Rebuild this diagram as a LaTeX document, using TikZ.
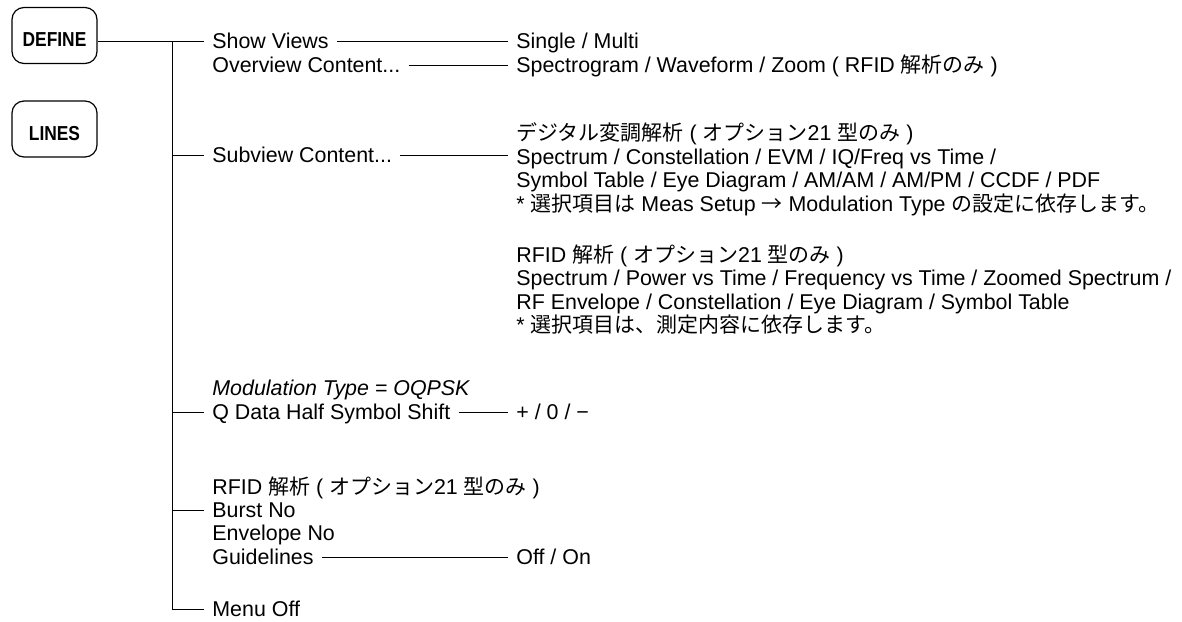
\documentclass[tikz,border=0pt]{standalone}
\usepackage{fontspec}
\setmainfont{Liberation Sans}
\newfontfamily\jpfont{Noto Sans CJK JP}[Scale=0.98]
\newfontfamily\keyfont{Liberation Sans}[FakeStretch=0.86]
\newcommand{\jp}[1]{{\jpfont #1}}
\tikzset{
  mkey/.style={rectangle, rounded corners=6pt, draw, line width=0.6pt, inner sep=0pt,
               font=\keyfont\bfseries\fontsize{10.1}{12}\selectfont,
               minimum width=42.5pt, minimum height=28pt, text height=11.2pt, text depth=0pt},
  mitem/.style={anchor=west, inner xsep=4pt, inner ysep=0pt,
                font=\fontsize{10.7}{11.75}\selectfont, text height=7.66pt, text depth=0pt},
  mblk/.style={anchor=base west, inner xsep=4pt, inner ysep=0pt, align=left,
               font=\fontsize{10.7}{11.75}\selectfont},
  mline/.style={line width=0.5pt},
}
\begin{document}
\begin{tikzpicture}[x=0.5pt,y=-0.5pt]
  \useasboundingbox (0,0) rectangle (1182,621);
  % hard keys
  \node[mkey](define) at (54.5,35.5){DEFINE};
  \node[mkey](lines) at (54.5,129){LINES};
  % first level
  \node[mitem](show) at (204,41){Show Views};
  \node[mitem](over) at (204,65){Overview Content...};
  \node[mitem](sub) at (204,155){Subview Content...};
  \node[mitem](modtype) at (204,388){\textit{Modulation Type = OQPSK}};
  \node[mitem](qshift) at (204,412){Q Data Half Symbol Shift};
  \node[mitem](rfid) at (204,487){RFID \jp{解析} ( \jp{オプション}21 \jp{型のみ} )};
  \node[mitem](burst) at (204,510){Burst No};
  \node[mitem](envno) at (204,533){Envelope No};
  \node[mitem](guide) at (204,557){Guidelines};
  \node[mitem](menuoff) at (204,609){Menu Off};
  % second level (blocks sit on their last baseline)
  \node[mitem](views) at (508,41){Single / Multi};
  \node[mitem](ovlist) at (508,65){Spectrogram / Waveform / Zoom ( RFID \jp{解析のみ} )};
  \node[mblk](digital) at (508,211.2){\jp{デジタル変調解析} ( \jp{オプション}21 \jp{型のみ} )\\
    Spectrum / Constellation / EVM / IQ/Freq vs Time /\\
    Symbol Table / Eye Diagram / AM/AM / AM/PM / CCDF / PDF\\
    * \jp{選択項目は} Meas Setup \jp{→} Modulation Type \jp{の設定に依存します。}};
  \node[mblk](rfidsub) at (508,332.5){RFID \jp{解析} ( \jp{オプション}21 \jp{型のみ} )\\
    Spectrum / Power vs Time / Frequency vs Time / Zoomed Spectrum /\\
    RF Envelope / Constellation / Eye Diagram / Symbol Table\\
    * \jp{選択項目は、測定内容に依存します。}};
  \node[mitem](shiftval) at (508,412){+ / 0 / −};
  \node[mitem](onoff) at (508,557){Off / On};
  % tree
  \coordinate (fork) at (172,41);
  \draw[mline](define.east |- show.west)--(show.west);
  \draw[mline](fork)|-(menuoff.west);
  \draw[mline](fork |- sub.west)--(sub.west);
  \draw[mline](fork |- qshift.west)--(qshift.west);
  \draw[mline](fork |- burst.west)--(burst.west);
  \draw[mline](show.east)--(views.west);\draw[mline](over.east)--(ovlist.west);
  \draw[mline](sub.east)--(sub.east -| digital.west);
  \draw[mline](qshift.east)--(shiftval.west);\draw[mline](guide.east)--(onoff.west);
\end{tikzpicture}
\end{document}
